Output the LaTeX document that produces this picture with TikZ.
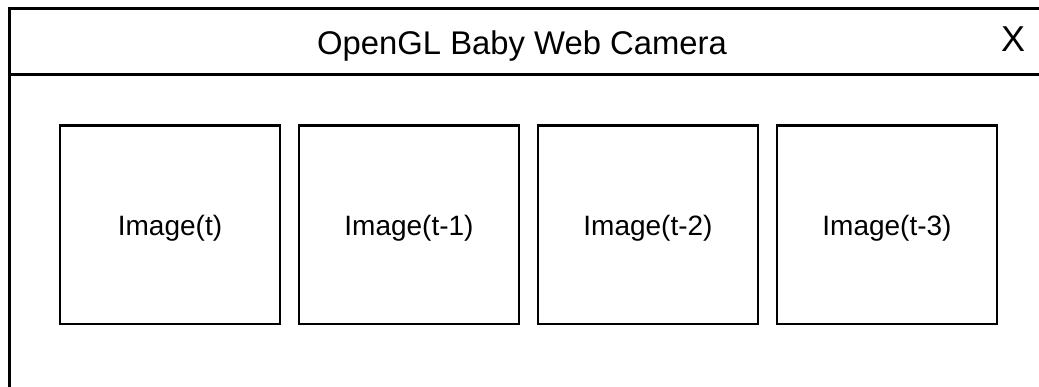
\documentclass[tikz,border=0pt]{standalone}
\usepackage{fontspec}
\setmainfont{Liberation Sans}
\usetikzlibrary{positioning}
\begin{document}
\begin{tikzpicture}[x=1pt,y=-1pt,
  every node/.style={font=\fontsize{28}{32}\selectfont},
  imgbox/.style={draw,line width=2.5pt,minimum width=220pt,minimum height=198.5pt,
    outer sep=0pt,inner sep=0pt,text height=22pt,text depth=0pt},
  frame/.style={line width=3pt}]
\useasboundingbox (0,0) rectangle (1039,387);
% window frame and title bar
\draw[frame] (1045,9) -- (9,9) -- (9,395);
\draw[frame] (9,75) -- (1045,75);
\node[anchor=base,font=\fontsize{32.8}{36}\selectfont] (title) at (522,55) {OpenGL Baby Web Camera};
\node[anchor=base,font=\fontsize{36}{40}\selectfont] (close) at (1013,52) {X};
% image frames
\node[imgbox] (img0) at (170,224.75) {Image(t)};
\node[imgbox,right=19pt of img0] (img1) {Image(t-1)};
\node[imgbox,right=19pt of img1] (img2) {Image(t-2)};
\node[imgbox,right=19pt of img2] (img3) {Image(t-3)};
\end{tikzpicture}
\end{document}
